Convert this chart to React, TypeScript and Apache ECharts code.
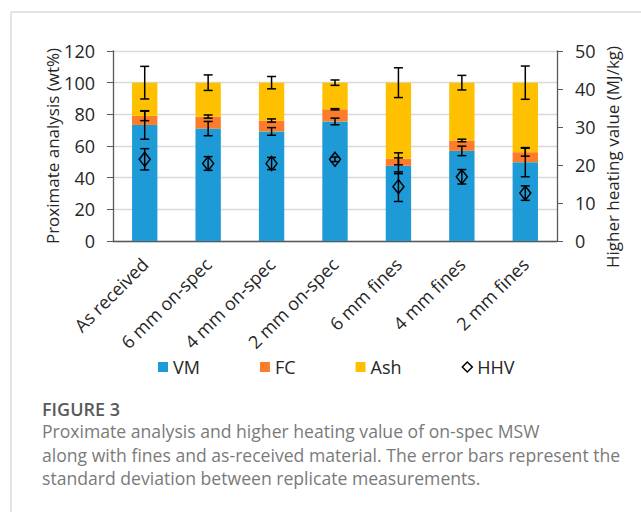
import React, { useEffect, useRef } from 'react';
import * as echarts from 'echarts';

const categories = ['As received', '6 mm on-spec', '4 mm on-spec', '2 mm on-spec', '6 mm fines', '4 mm fines', '2 mm fines'];
const vm = [73.3, 71.0, 69.2, 75.5, 47.5, 56.9, 49.8];
const fc = [5.7, 7.6, 6.9, 7.7, 4.4, 6.6, 6.3];
const ash = [21.0, 21.4, 23.9, 16.8, 48.1, 36.5, 43.9];
const vmErr = [9.0, 4.5, 2.4, 2.1, 5.0, 3.0, 9.2];
const fcErr = [3.0, 1.0, 1.0, 0.4, 3.8, 0.8, 2.5];
const ashErr = [10.3, 4.9, 3.9, 1.7, 9.4, 4.6, 10.5];
const hhv = [21.5, 20.4, 20.4, 21.5, 14.3, 16.9, 12.6];
const hhvErr = [2.8, 1.8, 1.6, 0.6, 3.9, 1.9, 1.9];
const leftTicks = { min: 0, max: 120, interval: 20 };
const rightTicks = { min: 0, max: 50, interval: 10 };
const captionTitle = 'FIGURE 3';
const captionLines = [
  'Proximate analysis and higher heating value of on-spec MSW',
  'along with fines and as-received material. The error bars represent the',
  'standard deviation between replicate measurements.',
];

const FONT = "'Open Sans', 'Noto Sans', sans-serif";
const TXT = '#262626';
const AXIS = '#595959';

export default function App() {
  const ref = useRef<HTMLDivElement>(null);
  useEffect(() => {
    const chart = echarts.init(ref.current!, null, { renderer: 'svg' });
    const fcTop = vm.map((v, i) => v + fc[i]);
    const ashTop = fcTop.map((v, i) => v + ash[i]);
    const errData = (centers: number[], errs: number[]) => centers.map((c, i) => [i, c, errs[i]]);
    const renderErr = (params: any, api: any) => {
      const x = api.value(0);
      const c = api.value(1);
      const e = api.value(2);
      const top = api.coord([x, c + e]);
      const bot = api.coord([x, c - e]);
      const hw = 4.5;
      const st = { stroke: '#000', lineWidth: 1.5 };
      return {
        type: 'group',
        children: [
          { type: 'line', shape: { x1: top[0], y1: top[1], x2: bot[0], y2: bot[1] }, style: st },
          { type: 'line', shape: { x1: top[0] - hw, y1: top[1], x2: top[0] + hw, y2: top[1] }, style: st },
          { type: 'line', shape: { x1: bot[0] - hw, y1: bot[1], x2: bot[0] + hw, y2: bot[1] }, style: st },
        ],
      };
    };
    const errSeries = (name: string, data: number[][], yAxisIndex: number) => ({
      type: 'custom',
      name,
      yAxisIndex,
      data,
      renderItem: renderErr,
      z: 5,
      silent: true,
      encode: { x: 0, y: 1 },
    });
    const axisLabelStyle = { fontFamily: FONT, fontSize: 18, color: TXT };

    chart.setOption({
      animation: false,
      textStyle: { fontFamily: FONT },
      grid: { left: 113, right: 84, top: 51, bottom: 271, containLabel: false },
      legend: {
        left: 153,
        top: 353,
        itemGap: 60,
        itemWidth: 10,
        itemHeight: 10,
        textStyle: { fontFamily: FONT, fontSize: 18, color: TXT },
        data: [
          { name: 'VM', icon: 'rect' },
          { name: 'FC', icon: 'rect' },
          { name: 'Ash', icon: 'rect' },
          { name: 'HHV', icon: 'diamond', itemStyle: { color: 'rgba(255,255,255,0)', borderColor: '#000', borderWidth: 1.5 } },
        ],
      },
      xAxis: {
        type: 'category',
        data: categories,
        axisLine: { lineStyle: { color: AXIS, width: 1.3 } },
        axisTick: { show: false },
        axisLabel: { ...axisLabelStyle, rotate: 45, margin: 20, interval: 0 },
      },
      yAxis: [
        {
          type: 'value',
          ...leftTicks,
          axisLine: { show: true, lineStyle: { color: AXIS, width: 1.3 } },
          axisTick: { show: true, length: 6, lineStyle: { color: AXIS } },
          splitLine: { lineStyle: { color: '#d9d9d9', width: 1.3 } },
          axisLabel: { ...axisLabelStyle, margin: 18 },
        },
        {
          type: 'value',
          position: 'right',
          ...rightTicks,
          axisLine: { show: true, lineStyle: { color: AXIS, width: 1.3 } },
          axisTick: { show: true, length: 6, lineStyle: { color: AXIS } },
          splitLine: { show: false },
          axisLabel: { ...axisLabelStyle, margin: 18 },
        },
      ],
      series: [
        { type: 'bar', name: 'VM', stack: 'p', data: vm, barWidth: '40%', itemStyle: { color: '#1e9bd7' } },
        { type: 'bar', name: 'FC', stack: 'p', data: fc, itemStyle: { color: '#fb7d2b' } },
        { type: 'bar', name: 'Ash', stack: 'p', data: ash, itemStyle: { color: '#ffc000' } },
        errSeries('vmErr', errData(vm, vmErr), 0),
        errSeries('fcErr', errData(fcTop, fcErr), 0),
        errSeries('ashErr', errData(ashTop, ashErr), 0),
        errSeries('hhvErr', errData(hhv, hhvErr), 1),
        {
          type: 'scatter',
          name: 'HHV',
          yAxisIndex: 1,
          data: hhv,
          symbol: 'diamond',
          symbolSize: [11, 14],
          z: 6,
          itemStyle: { color: 'rgba(255,255,255,0)', borderColor: '#000', borderWidth: 1.5, opacity: 1 },
        },
      ],
      graphic: [
        { type: 'line', shape: { x1: 11, y1: 12, x2: 641, y2: 12 }, style: { stroke: '#dcdcdc', lineWidth: 1.5 } },
        { type: 'line', shape: { x1: 11, y1: 12, x2: 11, y2: 512 }, style: { stroke: '#dcdcdc', lineWidth: 1.5 } },
        {
          type: 'text', x: 52, y: 146, rotation: Math.PI / 2,
          style: { text: 'Proximate analysis (wt%)', font: `17px ${FONT}`, fill: TXT, textAlign: 'center', textVerticalAlign: 'middle' },
        },
        {
          type: 'text', x: 612, y: 157, rotation: Math.PI / 2,
          style: { text: 'Higher heating value (MJ/kg)', font: `17px ${FONT}`, fill: TXT, textAlign: 'center', textVerticalAlign: 'middle' },
        },
        {
          type: 'text', x: 42, y: 409,
          style: { text: captionTitle, font: `600 18px ${FONT}`, fill: '#5a5a5a', textAlign: 'left', textVerticalAlign: 'middle', lineHeight: 18 },
        },
        ...captionLines.map((t, i) => ({
          type: 'text', x: 42, y: 431 + i * 23.7,
          style: { text: t, font: `17.6px ${FONT}`, fill: '#7a7a7a', textAlign: 'left', textVerticalAlign: 'middle', lineHeight: 20 },
        })),
      ],
    });
    return () => chart.dispose();
  }, []);
  return <div ref={ref} style={{ position: 'absolute', left: 0, top: 0, width: 641, height: 512 }} />;
}
